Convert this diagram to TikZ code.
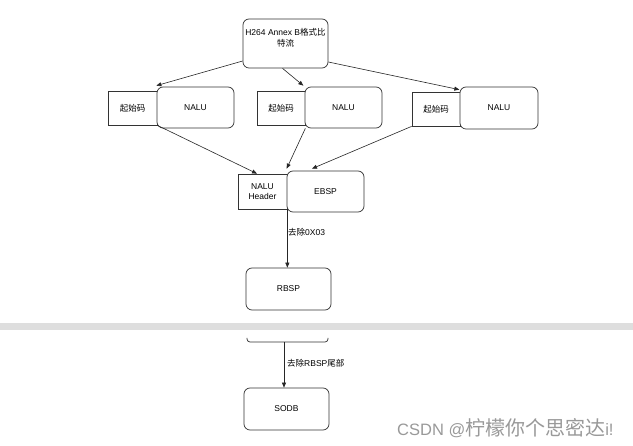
\documentclass[tikz,border=0pt]{standalone}
\usepackage{fontspec}
\setmainfont{Liberation Sans}
\newfontfamily\cjk{Noto Sans CJK SC}
\usetikzlibrary{arrows.meta}
\begin{document}
\begin{tikzpicture}[x=1pt,y=-1pt,
  box/.style={draw=black!80, line width=0.7pt, fill=white, inner sep=1pt, align=center, font=\fontsize{8.5}{10.5}\selectfont},
  rbox/.style={box, rounded corners=6pt},
  arr/.style={draw=black!85, line width=0.6pt, -{Triangle[length=5pt,width=4pt]}},
  lbl/.style={font=\fontsize{8.5}{10.5}\selectfont, anchor=west, inner sep=0pt}]
\fill[white] (0,0) rectangle (633,446);
\useasboundingbox (0,0) rectangle (633,446);
% gray band
\fill[black!13] (0,323) rectangle (633,330);
% top box
\node[rbox, minimum width=85pt, minimum height=49pt] (top) at (285.5,43.5) {};
\node[lbl, anchor=center, align=center] (toptext) at (285.5,38) {H264 Annex B{\cjk 格式比}\\{\cjk 特流}};
% row 1
\node[box, minimum width=49pt, minimum height=34pt] (s1) at (132.5,108) {\cjk 起始码};
\node[rbox, minimum width=77pt, minimum height=41pt] (n1) at (195.5,107.5) {NALU};
\node[box, minimum width=48pt, minimum height=34pt] (s2) at (281,108) {\cjk 起始码};
\node[rbox, minimum width=77pt, minimum height=41pt] (n2) at (343.5,107.5) {NALU};
\node[box, minimum width=48pt, minimum height=34pt] (s3) at (436,109) {\cjk 起始码};
\node[rbox, minimum width=78pt, minimum height=42pt] (n3) at (499,108) {NALU};
% row 2
\node[box, minimum width=49pt, minimum height=35pt] (hdr) at (262.5,191.5) {NALU\\Header};
\node[rbox, minimum width=77pt, minimum height=41pt] (eb) at (325.5,191.5) {EBSP};
% RBSP
\node[rbox, minimum width=85pt, minimum height=42pt] (rb) at (288.5,289) {RBSP};
% cut box bottom
\draw[black!80, line width=0.7pt, rounded corners=3pt] (247,338) -- (247,342) -- (328,342) -- (328,338);
\coordinate (cut) at (284,342);
% SODB
\node[rbox, minimum width=85pt, minimum height=42pt] (so) at (286.5,409) {SODB};
% arrows
\draw[arr] ([yshift=-17.5pt]top.west) -- ([xshift=-1pt,yshift=5pt]s1.north east);
\draw[arr] ([xshift=-3pt]top.south) -- ([xshift=-2pt,yshift=5pt]s2.north east);
\draw[arr] ([yshift=-18.5pt]top.east) -- ([xshift=-1pt,yshift=2pt]s3.north east);
\draw[arr] (s1.south east) -- ([xshift=-5.5pt]hdr.north);
\draw[arr] ([yshift=-3pt]s2.south east) -- ([yshift=2pt]eb.north west);
\draw[arr] (s3.south west) -- ([xshift=-13.5pt,yshift=2pt]eb.north);
\draw[arr] (hdr.south east) -- (hdr.south east |- rb.north);
\draw[arr] (cut) -- (cut |- so.north);
% labels
\node[lbl] (l1) at (288,232) {{\cjk 去除}0X03};
\node[lbl] (l2) at (287,363) {{\cjk 去除}RBSP{\cjk 尾部}};
% watermark
\node[anchor=west, inner sep=0pt, text=black!40] (wm) at (397,428) {{\fontsize{16.5}{18}\selectfont CSDN @}{\cjk\fontsize{20}{20}\selectfont 柠檬你个思密达}{\fontsize{16.5}{18}\selectfont i!}};
\end{tikzpicture}
\end{document}
